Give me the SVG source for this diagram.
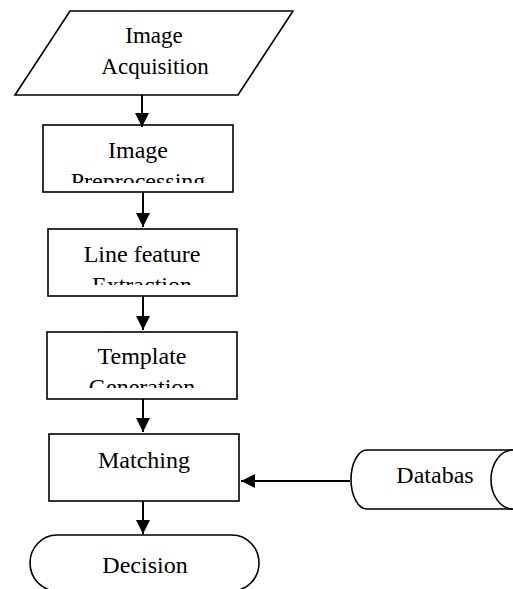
<svg xmlns="http://www.w3.org/2000/svg" width="513" height="589" viewBox="0 0 513 589">
  <style>
    .shape { fill: #ffffff; stroke: #000000; stroke-width: 1.6; }
    .lbl { font-family: "Liberation Serif", "Times New Roman", serif; font-size: 24px; fill: #000000; text-anchor: middle; }
    .conn { fill: none; stroke: #000000; stroke-width: 2; marker-end: url(#arrow); }
  </style>
  <defs>
    <marker id="arrow" markerUnits="userSpaceOnUse" markerWidth="14" markerHeight="14" refX="14" refY="7" orient="auto">
      <path d="M0,0 L14,7 L0,14 Z" fill="#000000"/>
    </marker>
    <clipPath id="clip1"><rect x="43" y="125" width="190" height="58"/></clipPath>
    <clipPath id="clip2"><rect x="48" y="229" width="189" height="56"/></clipPath>
    <clipPath id="clip3"><rect x="47" y="332" width="190" height="56"/></clipPath>
  </defs>
  <rect width="513" height="589" fill="#ffffff"/>

  <g id="acquisition">
    <polygon class="shape" points="70,11 293,11 238,95 15,95"/>
    <text class="lbl" x="154" y="43" style="font-size:23px">Image</text>
    <text class="lbl" x="155" y="74" style="font-size:23px">Acquisition</text>
  </g>

  <g id="preprocessing">
    <rect class="shape" x="43" y="125" width="190" height="67"/>
    <g clip-path="url(#clip1)">
      <text class="lbl" x="138" y="158">Image</text>
      <text class="lbl" x="138" y="189">Preprocessing</text>
    </g>
  </g>

  <g id="extraction">
    <rect class="shape" x="48" y="229" width="189" height="67"/>
    <g clip-path="url(#clip2)">
      <text class="lbl" x="142" y="262">Line feature</text>
      <text class="lbl" x="142" y="293">Extraction</text>
    </g>
  </g>

  <g id="template">
    <rect class="shape" x="47" y="332" width="190" height="67"/>
    <g clip-path="url(#clip3)">
      <text class="lbl" x="142" y="364">Template</text>
      <text class="lbl" x="142" y="395">Generation</text>
    </g>
  </g>

  <g id="matching">
    <rect class="shape" x="49" y="434" width="190" height="67"/>
    <text class="lbl" x="144" y="468">Matching</text>
  </g>

  <g id="decision">
    <path class="shape" d="M57,535 L232,535 A27,28 0 0 1 232,591 L57,591 A27,28 0 0 1 57,535 Z"/>
    <text class="lbl" x="145" y="573">Decision</text>
  </g>

  <g id="database">
    <path class="shape" d="M520,450 L367,450 A16,29.5 0 0 0 367,509 L520,509"/>
    <path class="shape" d="M513,450 A22,29.5 0 0 0 513,509"/>
    <text class="lbl" x="435" y="483">Databas</text>
  </g>

  <g id="connectors">
    <path class="conn" d="M142,95 L142,127"/>
    <path class="conn" d="M143,192 L143,227"/>
    <path class="conn" d="M143,296 L143,330"/>
    <path class="conn" d="M143,399 L143,432"/>
    <path class="conn" d="M143,501 L143,534"/>
    <path class="conn" d="M350,481 L241,481"/>
  </g>
</svg>
